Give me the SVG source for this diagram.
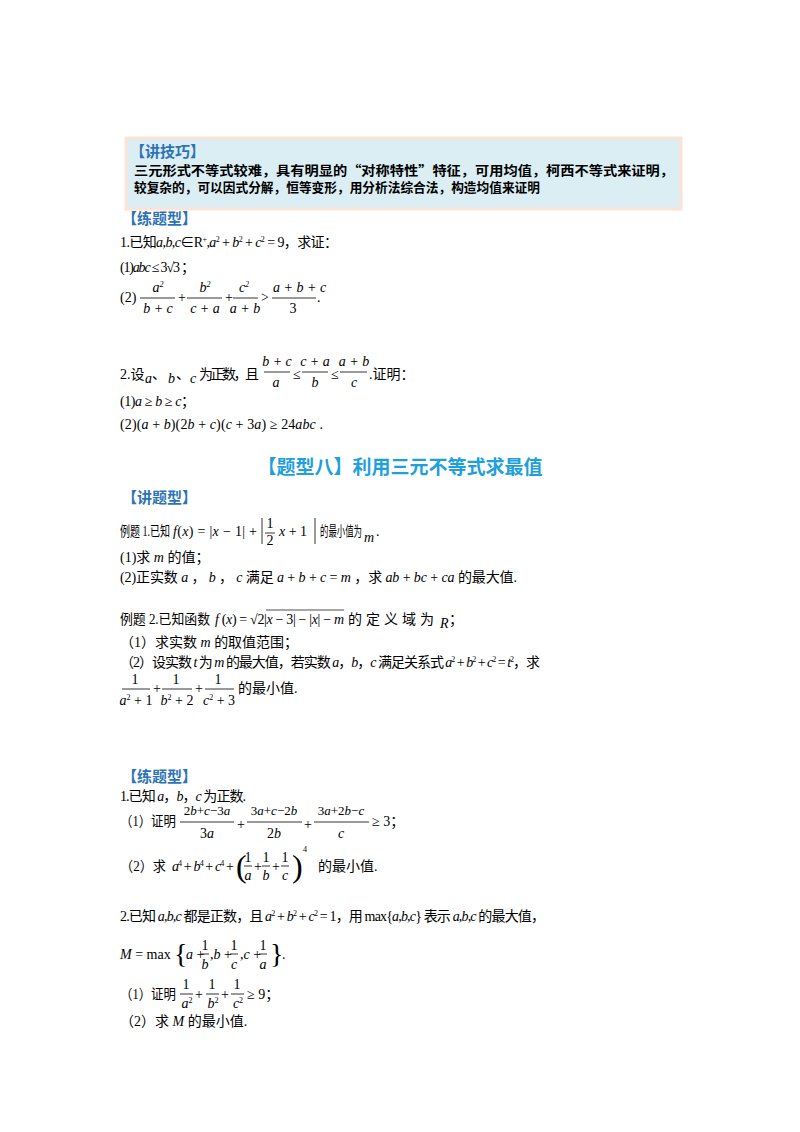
<svg xmlns="http://www.w3.org/2000/svg" width="800" height="1132" viewBox="0 0 800 1132">
<style>
text{font-family:"Liberation Serif","Noto Sans CJK SC",serif;font-size:14px;fill:#000}
.i{font-style:italic}
.h{font-family:"Noto Sans CJK SC",sans-serif;font-weight:bold;font-size:15px;fill:#2e74b5}
.k{font-family:"Noto Sans CJK SC",sans-serif;font-weight:bold;font-size:13px}
.m{text-anchor:middle}
.s{font-size:8px}
.n{font-size:13px}
line{stroke:#000;stroke-width:0.8}
</style>
<rect width="800" height="1132" fill="#fff"/>
<g id="tips">
<rect x="126" y="138" width="555" height="71" fill="#dbeef4" stroke="#fbe4d5" stroke-width="3"/>
<text class="h" x="130" y="157">【讲技巧】</text>
<text class="k" x="134" y="175" textLength="540" lengthAdjust="spacingAndGlyphs">三元形式不等式较难，具有明显的“对称特性”特征，可用均值，柯西不等式来证明，</text>
<text class="k" x="134" y="192" textLength="406" lengthAdjust="spacingAndGlyphs">较复杂的，可以因式分解，恒等变形，用分析法综合法，构造均值来证明</text>
</g>
<g id="practice1">
<text class="h" x="122" y="224">【练题型】</text>
<text x="120" y="247" textLength="218">1.已知<tspan class="i">a</tspan>,<tspan class="i">b</tspan>,<tspan class="i">c</tspan>∈R<tspan class="s" dy="-5">+</tspan><tspan dy="5">,</tspan><tspan class="i">a</tspan><tspan class="s" dy="-5">2</tspan><tspan dy="5"> + </tspan><tspan class="i">b</tspan><tspan class="s" dy="-5">2</tspan><tspan dy="5"> + </tspan><tspan class="i">c</tspan><tspan class="s" dy="-5">2</tspan><tspan dy="5"> = 9，求证：</tspan></text>
<text x="120" y="272" textLength="75">(1)<tspan class="i">abc</tspan> ≤ 3√3 ；</text>
<text x="120" y="302">(2)</text>
<text class="m i" x="158" y="292">a<tspan class="s" dy="-5">2</tspan></text><line x1="140" y1="298" x2="175" y2="298"/><text class="m i" x="158" y="313">b + c</text>
<text x="178" y="302">+</text>
<text class="m i" x="205" y="292">b<tspan class="s" dy="-5">2</tspan></text><line x1="187" y1="298" x2="222" y2="298"/><text class="m i" x="205" y="313">c + a</text>
<text x="225" y="302">+</text>
<text class="m i" x="244" y="292">c<tspan class="s" dy="-5">2</tspan></text><line x1="233" y1="298" x2="258" y2="298"/><text class="m i" x="245" y="313">a + b</text>
<text x="261" y="302">&gt;</text>
<text class="i" x="273" y="292">a + b + c</text><line x1="272" y1="298" x2="316" y2="298"/><text class="m" x="293" y="313">3</text>
<text x="317" y="302">.</text>
</g>
<g id="practice2">
<text x="120" y="379">2.设</text><text class="i" x="145" y="383">a</text><text x="152" y="379">、</text><text class="i" x="168" y="383">b</text><text x="176" y="379">、</text><text class="i" x="190" y="383">c</text>
<text x="199" y="379" textLength="60">为正数，且</text>
<text class="m i" x="277" y="366">b + c</text><line x1="264" y1="372" x2="290" y2="372"/><text class="m i" x="276" y="387">a</text>
<text x="293" y="379">≤</text>
<text class="m i" x="315" y="366">c + a</text><line x1="302" y1="372" x2="328" y2="372"/><text class="m i" x="315" y="387">b</text>
<text x="331" y="379">≤</text>
<text class="m i" x="354" y="366">a + b</text><line x1="340" y1="372" x2="367" y2="372"/><text class="m i" x="354" y="387">c</text>
<text x="369" y="379">.证明：</text>
<text x="120" y="406" textLength="75">(1)<tspan class="i">a</tspan> ≥ <tspan class="i">b</tspan> ≥ <tspan class="i">c</tspan>；</text>
<text x="120" y="429" textLength="203">(2)(<tspan class="i">a</tspan> + <tspan class="i">b</tspan>)(2<tspan class="i">b</tspan> + <tspan class="i">c</tspan>)(<tspan class="i">c</tspan> + 3<tspan class="i">a</tspan>) ≥ 24<tspan class="i">abc</tspan> .</text>
</g>
<g id="title">
<text class="h m" x="400" y="474" style="font-size:19px;fill:#1ea0dc">【题型八】利用三元不等式求最值</text>
</g>
<g id="example1">
<text class="h" x="122" y="503">【讲题型】</text>
<text x="120" y="536" textLength="50" lengthAdjust="spacingAndGlyphs">例题 1.已知</text>
<text x="173" y="536" textLength="84"><tspan class="i">f</tspan>(<tspan class="i">x</tspan>) = |<tspan class="i">x</tspan> − 1| +</text>
<line x1="262" y1="518" x2="262" y2="544"/>
<text class="m" x="270" y="528">1</text><line x1="265" y1="533" x2="275" y2="533"/><text class="m" x="270" y="545">2</text>
<text x="279" y="536"><tspan class="i">x</tspan> + 1</text>
<line x1="315" y1="518" x2="315" y2="544"/>
<text x="320" y="536" textLength="42" lengthAdjust="spacingAndGlyphs">的最小值为</text><text class="i" x="364" y="542">m</text><text x="376" y="536">.</text>
<text x="120" y="562">(1)求 <tspan class="i">m</tspan> 的值；</text>
<text x="120" y="582" textLength="397">(2)正实数 <tspan class="i">a</tspan> ， <tspan class="i">b</tspan> ， <tspan class="i">c</tspan> 满足 <tspan class="i">a</tspan> + <tspan class="i">b</tspan> + <tspan class="i">c</tspan> = <tspan class="i">m</tspan> ，求 <tspan class="i">ab</tspan> + <tspan class="i">bc</tspan> + <tspan class="i">ca</tspan> 的最大值.</text>
</g>
<g id="example2">
<text x="120" y="624" textLength="90" lengthAdjust="spacingAndGlyphs">例题 2.已知函数</text>
<text x="215" y="624" textLength="129"><tspan class="i">f</tspan> (<tspan class="i">x</tspan>) = √2|<tspan class="i">x</tspan> − 3| − |<tspan class="i">x</tspan>| − <tspan class="i">m</tspan></text>
<path d="M266 610 h78" stroke="#000" stroke-width="0.7"/>
<text x="348" y="624" textLength="86">的定义域为</text><text class="i" x="440" y="628">R</text><text x="449" y="624">；</text>
<text x="120" y="647">（1）求实数 <tspan class="i">m</tspan> 的取值范围；</text>
<text x="120" y="667" textLength="420">（2）设实数 <tspan class="i">t</tspan> 为 <tspan class="i">m</tspan> 的最大值，若实数 <tspan class="i">a</tspan>，<tspan class="i">b</tspan>，<tspan class="i">c</tspan> 满足关系式 <tspan class="i">a</tspan><tspan class="s" dy="-5">2</tspan><tspan dy="5"> + </tspan><tspan class="i">b</tspan><tspan class="s" dy="-5">2</tspan><tspan dy="5"> + </tspan><tspan class="i">c</tspan><tspan class="s" dy="-5">2</tspan><tspan dy="5"> = </tspan><tspan class="i">t</tspan><tspan class="s" dy="-5">2</tspan><tspan dy="5">，求</tspan></text>
<text class="m" x="135" y="684">1</text><line x1="122" y1="689" x2="150" y2="689"/><text class="m" x="136" y="705"><tspan class="i">a</tspan><tspan class="s" dy="-5">2</tspan><tspan dy="5"> + 1</tspan></text>
<text x="153" y="693">+</text>
<text class="m" x="176" y="684">1</text><line x1="162" y1="689" x2="192" y2="689"/><text class="m" x="177" y="705"><tspan class="i">b</tspan><tspan class="s" dy="-5">2</tspan><tspan dy="5"> + 2</tspan></text>
<text x="195" y="693">+</text>
<text class="m" x="218" y="684">1</text><line x1="205" y1="689" x2="234" y2="689"/><text class="m" x="219" y="705"><tspan class="i">c</tspan><tspan class="s" dy="-5">2</tspan><tspan dy="5"> + 3</tspan></text>
<text x="238" y="693">的最小值.</text>
</g>
<g id="practice3">
<text class="h" x="122" y="782">【练题型】</text>
<text x="120" y="801" textLength="126">1.已知 <tspan class="i">a</tspan>，<tspan class="i">b</tspan>，<tspan class="i">c</tspan> 为正数.</text>
<text x="120" y="826" textLength="56" lengthAdjust="spacingAndGlyphs">（1）证明</text>
<text class="m n" x="207" y="815">2<tspan class="i">b</tspan>+<tspan class="i">c</tspan>−3<tspan class="i">a</tspan></text><line x1="180" y1="822" x2="234" y2="822"/><text class="m" x="207" y="838">3<tspan class="i">a</tspan></text>
<text x="237" y="829">+</text>
<text class="m n" x="274" y="815">3<tspan class="i">a</tspan>+<tspan class="i">c</tspan>−2<tspan class="i">b</tspan></text><line x1="247" y1="822" x2="302" y2="822"/><text class="m" x="274" y="838">2<tspan class="i">b</tspan></text>
<text x="304" y="829">+</text>
<text class="m n" x="341" y="815">3<tspan class="i">a</tspan>+2<tspan class="i">b</tspan>−<tspan class="i">c</tspan></text><line x1="314" y1="822" x2="369" y2="822"/><text class="m i" x="341" y="838">c</text>
<text x="372" y="826">≥ 3；</text>
<text x="120" y="871" textLength="46" lengthAdjust="spacingAndGlyphs">（2）求</text>
<text x="172" y="871" textLength="62"><tspan class="i">a</tspan><tspan class="s" dy="-5">4</tspan><tspan dy="5"> + </tspan><tspan class="i">b</tspan><tspan class="s" dy="-5">4</tspan><tspan dy="5"> + </tspan><tspan class="i">c</tspan><tspan class="s" dy="-5">4</tspan><tspan dy="5"> +</tspan></text>
<text x="236" y="877" style="font-size:32px;font-weight:200">(</text>
<text class="m" x="248" y="862">1</text><line x1="244" y1="866" x2="252" y2="866"/><text class="m i" x="248" y="880">a</text>
<text x="254" y="871">+</text>
<text class="m" x="266" y="862">1</text><line x1="262" y1="866" x2="270" y2="866"/><text class="m i" x="266" y="880">b</text>
<text x="272" y="871">+</text>
<text class="m" x="285" y="862">1</text><line x1="281" y1="866" x2="289" y2="866"/><text class="m i" x="285" y="880">c</text>
<text x="292" y="877" style="font-size:32px;font-weight:200">)</text>
<text class="s" x="303" y="852">4</text>
<text x="318" y="871">的最小值.</text>
</g>
<g id="practice4">
<text x="120" y="921" textLength="425">2.已知 <tspan class="i">a</tspan>,<tspan class="i">b</tspan>,<tspan class="i">c</tspan> 都是正数，且 <tspan class="i">a</tspan><tspan class="s" dy="-5">2</tspan><tspan dy="5"> + </tspan><tspan class="i">b</tspan><tspan class="s" dy="-5">2</tspan><tspan dy="5"> + </tspan><tspan class="i">c</tspan><tspan class="s" dy="-5">2</tspan><tspan dy="5"> = 1，用 max{</tspan><tspan class="i">a</tspan>,<tspan class="i">b</tspan>,<tspan class="i">c</tspan>} 表示 <tspan class="i">a</tspan>,<tspan class="i">b</tspan>,<tspan class="i">c</tspan> 的最大值，</text>
<text x="120" y="959"><tspan class="i">M</tspan> = max</text>
<text x="174" y="963" style="font-size:28px;font-weight:200">{</text>
<text x="186" y="959"><tspan class="i">a</tspan> +</text>
<text class="m" x="205" y="950">1</text><line x1="201" y1="954" x2="209" y2="954"/><text class="m i" x="205" y="969">b</text>
<text x="210" y="959">,<tspan class="i">b</tspan> +</text>
<text class="m" x="234" y="950">1</text><line x1="230" y1="954" x2="238" y2="954"/><text class="m i" x="234" y="969">c</text>
<text x="240" y="959">,<tspan class="i">c</tspan> +</text>
<text class="m" x="263" y="950">1</text><line x1="259" y1="954" x2="267" y2="954"/><text class="m i" x="263" y="969">a</text>
<text x="270" y="963" style="font-size:28px;font-weight:200">}</text>
<text x="282" y="959">.</text>
<text x="120" y="999" textLength="56" lengthAdjust="spacingAndGlyphs">（1）证明</text>
<text class="m" x="186" y="989">1</text><line x1="180" y1="994" x2="193" y2="994"/><text class="m" x="187" y="1008"><tspan class="i">a</tspan><tspan class="s" dy="-5">2</tspan></text>
<text x="195" y="999">+</text>
<text class="m" x="212" y="989">1</text><line x1="206" y1="994" x2="219" y2="994"/><text class="m" x="213" y="1008"><tspan class="i">b</tspan><tspan class="s" dy="-5">2</tspan></text>
<text x="221" y="999">+</text>
<text class="m" x="237" y="989">1</text><line x1="231" y1="994" x2="244" y2="994"/><text class="m" x="238" y="1008"><tspan class="i">c</tspan><tspan class="s" dy="-5">2</tspan></text>
<text x="247" y="999">≥ 9；</text>
<text x="120" y="1026">（2）求 <tspan class="i">M</tspan> 的最小值.</text>
</g>
</svg>
